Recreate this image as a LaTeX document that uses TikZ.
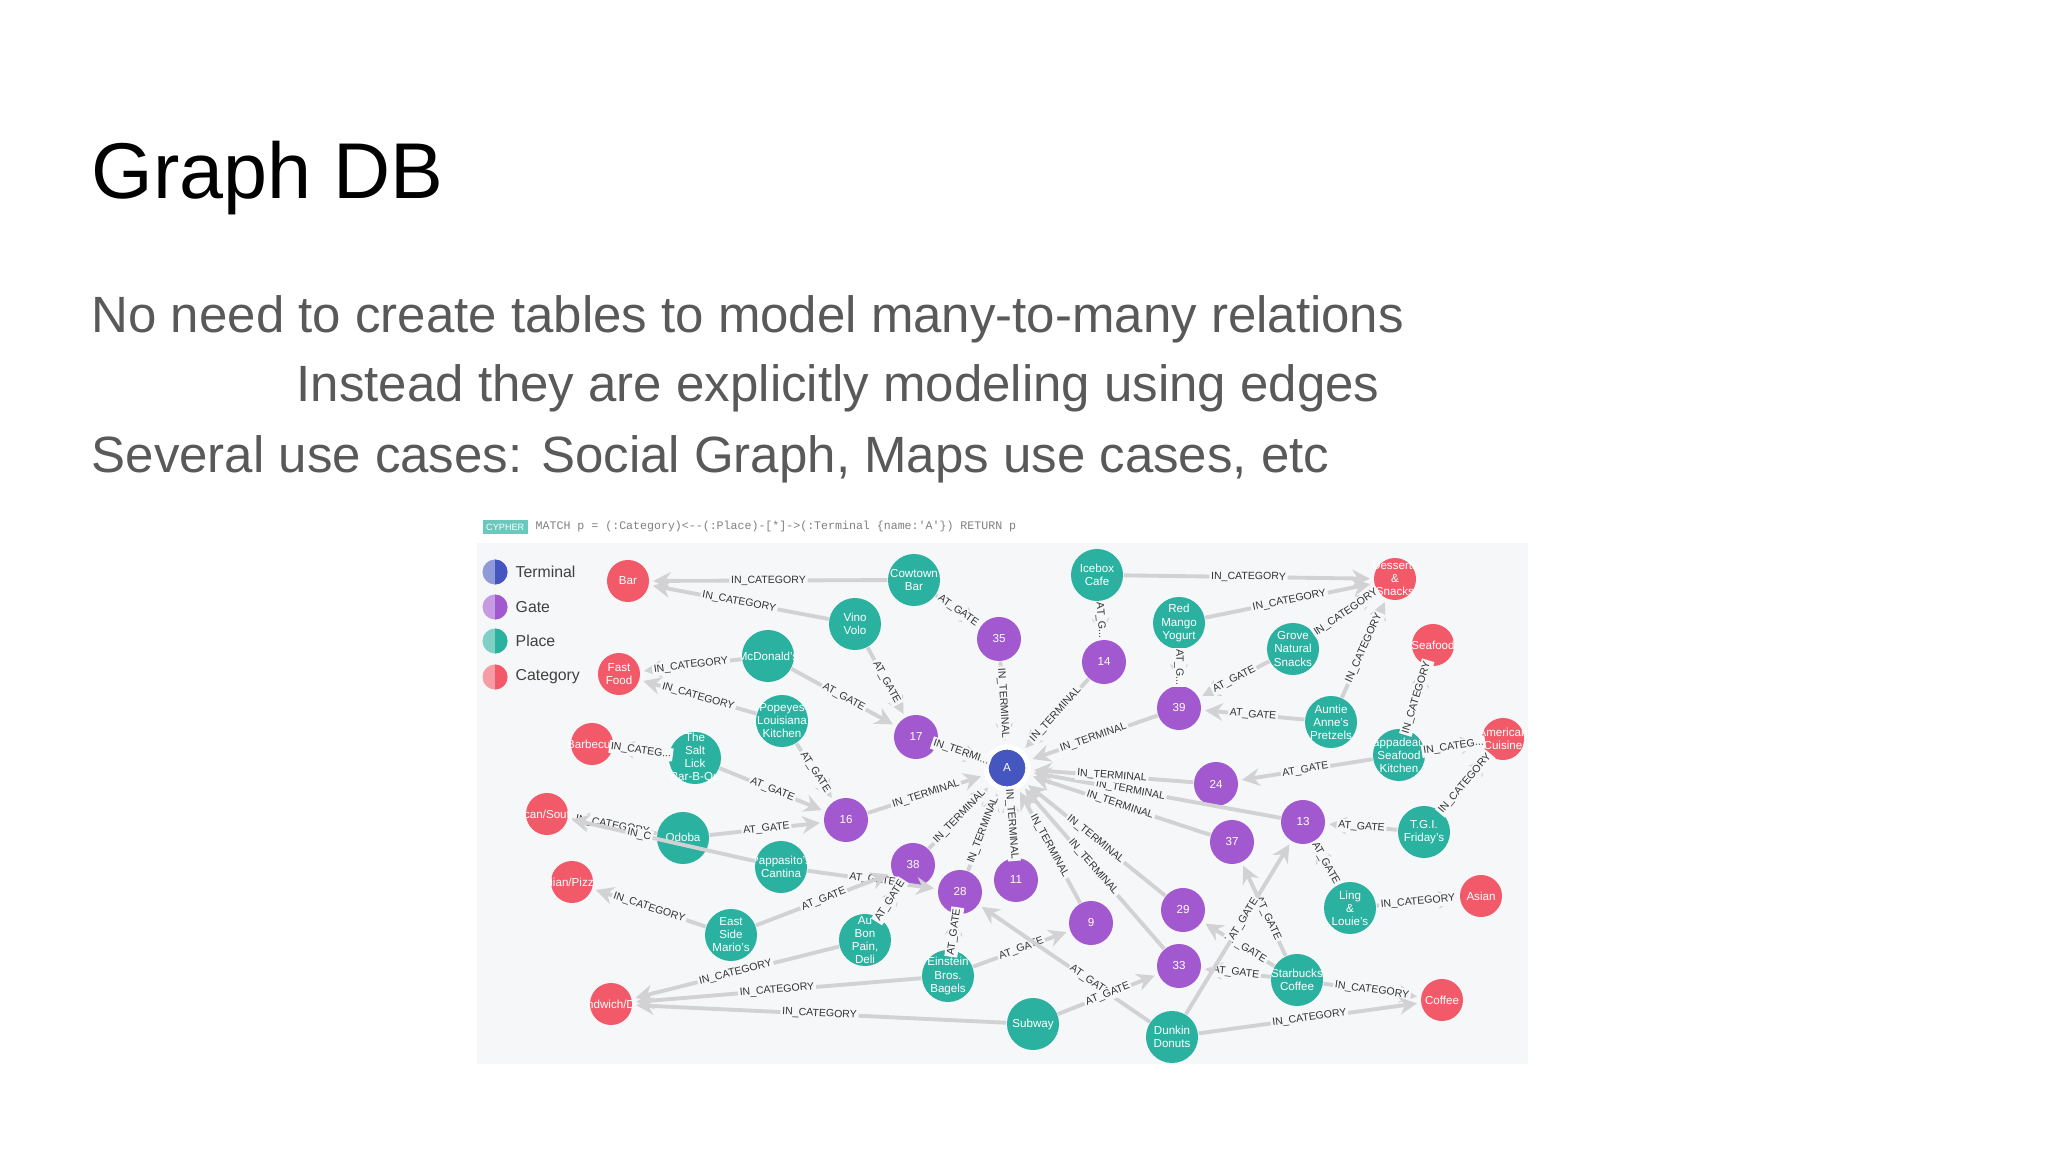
\documentclass[tikz,border=0pt]{standalone}
\usepackage{fontspec}
\setmainfont{Liberation Sans}
\newfontfamily\monof{Liberation Mono}
\usetikzlibrary{arrows.meta}
\definecolor{termc}{HTML}{4656C0}
\definecolor{gatec}{HTML}{A259CF}
\definecolor{placec}{HTML}{2BB1A0}
\definecolor{catc}{HTML}{F25A6A}
\definecolor{panel}{HTML}{F6F7F9}
\definecolor{edgec}{HTML}{D2D2D4}
\definecolor{bodyc}{HTML}{595959}
\tikzset{
  nd/.style={circle,inner sep=0pt},
  lt/.style={text=white,align=center,inner sep=0pt,font=\fontsize{3.3}{3.7}\selectfont},
  place/.style={nd,fill=placec,minimum size=0.52cm},
  gate/.style={nd,fill=gatec,minimum size=0.44cm},
  cat/.style={nd,fill=catc,minimum size=0.42cm},
  term/.style={nd,fill=termc,minimum size=0.42cm,draw=white,line width=1.5pt},
  edge/.style={draw=edgec,line width=1.1pt,-{Stealth[length=5pt,width=5pt]},shorten >=1pt},
  lbl/.style={midway,sloped,fill=panel,inner sep=0.5pt,text=black!80,font=\fontsize{3}{3.5}\selectfont},
}
\newcommand{\gnode}[5]{\node[#1,label={[lt]center:#5}] (#2) at (#3,#4) {};}
\begin{document}
\begin{tikzpicture}[x=0.01cm,y=-0.01cm]
\useasboundingbox (0,0) rectangle (2048,1152);
\fill[white] (0,0) rectangle (2048,1152);
\node[anchor=base west,inner sep=0,font=\fontsize{22.5}{26}\selectfont] (title) at (91,199) {Graph DB};
\node[anchor=base west,inner sep=0,text=bodyc,font=\fontsize{14.5}{17}\selectfont] (l1) at (91,333) {No need to create tables to model many-to-many relations};
\node[anchor=base west,inner sep=0,text=bodyc,font=\fontsize{14.5}{17}\selectfont] (l2) at (296,402) {Instead they are explicitly modeling using edges};
\node[anchor=base west,inner sep=0,text=bodyc,font=\fontsize{14.5}{17}\selectfont] (l3) at (91,473) {Several use cases: Social Graph, Maps use cases, etc};
% panel
\fill[panel] (477,543) rectangle (1528,1064);
\node[fill=placec!70,text=white,inner sep=1pt,anchor=west,font=\fontsize{2.6}{3}\selectfont] (cy) at (482,527) {CYPHER};
\node[anchor=west,inner sep=0,text=black!50,font=\monof\fontsize{3.3}{4}\selectfont] (q) at (535,527) {MATCH p = (:Category)<--(:Place)-[*]->(:Terminal \{name:'A'\}) RETURN p};
% legend
\foreach \y/\c/\t [count=\i] in {572/termc/Terminal,607/gatec/Gate,641/placec/Place,677/catc/Category}{
  \fill[\c!60] (495,\y) circle[radius=0.125cm];
  \fill[\c] (495,\y) ++(0,-12.5) arc[start angle=90,end angle=-90,radius=0.125cm] -- cycle;
  \node[anchor=west,inner sep=0,text=black!75,font=\fontsize{4.5}{5}\selectfont] (lg\i) at (515,\y) {\t};
}
% nodes
\gnode{cat}{bar}{628}{581}{Bar}
\gnode{place}{cow}{914}{580}{Cowtown\\Bar}
\gnode{place}{vino}{855}{624}{Vino\\Volo}
\gnode{gate}{g35}{999}{639}{35}
\gnode{place}{mcd}{768}{656}{McDonald's}
\gnode{cat}{fast}{619}{674}{Fast\\Food}
\gnode{place}{pop}{782}{721}{Popeyes\\Louisiana\\Kitchen}
\gnode{gate}{g17}{916}{737}{17}
\gnode{cat}{bbq}{592}{744}{Barbecue}
\gnode{place}{salt}{695}{758}{The\\Salt\\Lick\\Bar-B-Qu}
\node[term,label={[lt]center:A}] (A) at (1007,768) {};
\gnode{place}{ice}{1097}{575}{Icebox\\Cafe}
\gnode{cat}{des}{1395}{579}{Desserts\\\&\\Snacks}
\gnode{place}{red}{1179}{623}{Red\\Mango\\Yogurt}
\gnode{gate}{g14}{1104}{662}{14}
\gnode{place}{grove}{1293}{649}{Grove\\Natural\\Snacks}
\gnode{cat}{sea}{1433}{645}{Seafood}
\gnode{gate}{g39}{1179}{708}{39}
\gnode{place}{aunt}{1331}{722}{Auntie\\Anne's\\Pretzels}
\gnode{place}{papd}{1399}{755}{appadeau\\Seafood\\Kitchen}
\gnode{cat}{amer}{1503}{739}{American\\Cuisine}
\gnode{gate}{g24}{1216}{784}{24}
\gnode{gate}{g13}{1303}{822}{13}
\gnode{place}{tgi}{1424}{832}{T.G.I.\\Friday's}
\gnode{gate}{g37}{1232}{842}{37}
\gnode{cat}{mex}{547}{814}{can/Sout}
\gnode{place}{qdoba}{683}{838}{Qdoba}
\gnode{gate}{g16}{846}{820}{16}
\gnode{place}{pappas}{781}{867}{Pappasito's\\Cantina}
\gnode{gate}{g38}{913}{865}{38}
\gnode{gate}{g28}{960}{892}{28}
\gnode{gate}{g11}{1016}{880}{11}
\gnode{cat}{ital}{572}{882}{lian/Pizz}
\gnode{place}{east}{731}{935}{East\\Side\\Mario's}
\gnode{place}{aubon}{865}{940}{Au\\Bon\\Pain,\\Deli}
\gnode{place}{ling}{1350}{908}{Ling\\\&\\Louie's}
\gnode{cat}{asian}{1481}{896}{Asian}
\gnode{gate}{g29}{1183}{910}{29}
\gnode{gate}{g9}{1091}{923}{9}
\gnode{place}{ein}{948}{976}{Einstein\\Bros.\\Bagels}
\gnode{gate}{g33}{1179}{966}{33}
\gnode{place}{star}{1297}{980}{Starbucks\\Coffee}
\gnode{cat}{sand}{611}{1004}{ndwich/D}
\gnode{cat}{coffee}{1442}{1000}{Coffee}
\gnode{place}{sub}{1033}{1024}{Subway}
\gnode{place}{dunk}{1172}{1037}{Dunkin\\Donuts}
% edges
\draw[edge] (cow) -- node[lbl]{IN\_CATEGORY} (bar);
\draw[edge] (vino) -- node[lbl]{IN\_CATEGORY} (bar);
\draw[edge] (cow) -- node[lbl]{AT\_GATE} (g35);
\draw[edge] (g35) -- node[lbl]{IN\_TERMINAL} (A);
\draw[edge] (vino) -- node[lbl]{AT\_GATE} (g17);
\draw[edge] (mcd) -- node[lbl]{IN\_CATEGORY} (fast);
\draw[edge] (mcd) -- node[lbl]{AT\_GATE} (g17);
\draw[edge] (pop) -- node[lbl]{IN\_CATEGORY} (fast);
\draw[edge] (pop) -- node[lbl]{AT\_GATE} (g16);
\draw[edge] (g17) -- node[lbl]{IN\_TERMI...} (A);
\draw[edge] (salt) -- node[lbl]{IN\_CATEG...} (bbq);
\draw[edge] (salt) -- node[lbl]{AT\_GATE} (g16);
\draw[edge] (g16) -- node[lbl]{IN\_TERMINAL} (A);
\draw[edge] (qdoba) -- node[lbl]{IN\_CATEGORY} (mex);
\draw[edge] (pappas) -- node[lbl,pos=0.62]{IN\_C} (mex);
\draw[edge] (qdoba) -- node[lbl]{AT\_GATE} (g16);
\draw[edge] (pappas) -- node[lbl]{AT\_GATE} (g28);
\draw[edge] (east) -- node[lbl]{IN\_CATEGORY} (ital);
\draw[edge] (east) -- node[lbl]{AT\_GATE} (g38);
\draw[edge] (aubon) -- node[lbl]{AT\_GATE} (g38);
\draw[edge] (aubon) -- node[lbl]{IN\_CATEGORY} (sand);
\draw[edge] (ein) -- node[lbl]{IN\_CATEGORY} (sand);
\draw[edge] (sub) -- node[lbl]{IN\_CATEGORY} (sand);
\draw[edge] (ein) -- node[lbl]{AT\_GATE} (g28);
\draw[edge] (ein) -- node[lbl]{AT\_GATE} (g9);
\draw[edge] (dunk) -- node[lbl,pos=0.35]{AT\_GATE} (g28);
\draw[edge] (g38) -- node[lbl]{IN\_TERMINAL} (A);
\draw[edge] (g28) -- node[lbl]{IN\_TERMINAL} (A);
\draw[edge] (g11) -- node[lbl]{IN\_TERMINAL} (A);
\draw[edge] (g9) -- node[lbl]{IN\_TERMINAL} (A);
\draw[edge] (g33) -- node[lbl]{IN\_TERMINAL} (A);
\draw[edge] (g29) -- node[lbl]{IN\_TERMINAL} (A);
\draw[edge] (g37) -- node[lbl]{IN\_TERMINAL} (A);
\draw[edge] (g13) -- node[lbl,pos=0.6]{IN\_TERMINAL} (A);
\draw[edge] (g24) -- node[lbl]{IN\_TERMINAL} (A);
\draw[edge] (g39) -- node[lbl]{IN\_TERMINAL} (A);
\draw[edge] (g14) -- node[lbl]{IN\_TERMINAL} (A);
\draw[edge] (ice) -- node[lbl]{AT\_G...} (g14);
\draw[edge] (ice) -- node[lbl]{IN\_CATEGORY} (des);
\draw[edge] (red) -- node[lbl]{IN\_CATEGORY} (des);
\draw[edge] (red) -- node[lbl]{AT\_G...} (g39);
\draw[edge] (grove) -- node[lbl]{IN\_CATEGORY} (des);
\draw[edge] (grove) -- node[lbl]{AT\_GATE} (g39);
\draw[edge] (aunt) -- node[lbl]{AT\_GATE} (g39);
\draw[edge] (aunt) -- node[lbl]{IN\_CATEGORY} (des);
\draw[edge] (papd) -- node[lbl]{IN\_CATEGORY} (sea);
\draw[edge] (papd) -- node[lbl]{IN\_CATEG...} (amer);
\draw[edge] (papd) -- node[lbl]{AT\_GATE} (g24);
\draw[edge] (tgi) -- node[lbl]{IN\_CATEGORY} (amer);
\draw[edge] (tgi) -- node[lbl]{AT\_GATE} (g13);
\draw[edge] (ling) -- node[lbl]{AT\_GATE} (g13);
\draw[edge] (ling) -- node[lbl]{IN\_CATEGORY} (asian);
\draw[edge] (star) -- node[lbl,pos=0.4]{AT\_GATE} (g37);
\draw[edge] (star) -- node[lbl,pos=0.4]{AT\_GATE} (g29);
\draw[edge] (star) -- node[lbl]{AT\_GATE} (g33);
\draw[edge] (star) -- node[lbl]{IN\_CATEGORY} (coffee);
\draw[edge] (dunk) -- node[lbl]{IN\_CATEGORY} (coffee);
\draw[edge] (dunk) -- node[lbl,pos=0.55]{AT\_GATE} (g13);
\draw[edge] (sub) -- node[lbl]{AT\_GATE} (g33);
\end{tikzpicture}
\end{document}
